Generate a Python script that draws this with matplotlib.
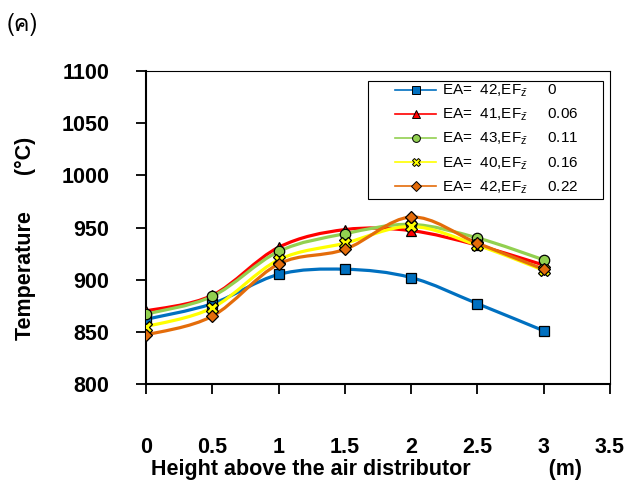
import matplotlib
matplotlib.use("Agg")
import matplotlib.pyplot as plt
from matplotlib.path import Path
from matplotlib.patches import PathPatch, Rectangle
from matplotlib.lines import Line2D
from matplotlib import font_manager
from matplotlib.ft2font import FT2Font
import numpy as np

# measurements along the bed height (m) and temperatures (deg C)
height = [0, 0.5, 1, 1.5, 2, 2.5, 3]
temp_ef0 = [862, 877, 905, 910, 902, 877, 851]
temp_ef006 = [870, 885, 931, 948, 947, 933, 914]
temp_ef011 = [867, 884, 927, 944, 953, 940, 919]
temp_ef016 = [855, 873, 919, 935, 951, 933, 909]
temp_ef022 = [847, 865, 915, 929, 960, 935, 910]

ea_values = [42, 41, 43, 40, 42]
ef_labels = ["0", "0.06", "0.11", "0.16", "0.22"]

series = [temp_ef0, temp_ef006, temp_ef011, temp_ef016, temp_ef022]
colors = ["#0070C0", "#FF0000", "#92D050", "#FFFF00", "#E46C0A"]
markers = ["s", "^", "o", "X", "D"]
msizes = [7, 7.5, 7.5, 8, 6.5]

plt.rcParams["font.family"] = ["Liberation Sans", "DejaVu Sans"]
plt.rcParams["mathtext.fontset"] = "custom"
plt.rcParams["mathtext.rm"] = "Liberation Sans"
plt.rcParams["mathtext.it"] = "Liberation Sans"


def find_font(char):
    for f in font_manager.fontManager.ttflist:
        try:
            if ord(char) in FT2Font(f.fname).get_charmap():
                return f.name
        except Exception:
            continue
    return "DejaVu Sans"


def smooth_path(xs, ys):
    # cubic bezier through the points, like a spreadsheet "smoothed line"
    pts = np.column_stack([xs, ys]).astype(float)
    n = len(pts)
    verts = [pts[0]]
    codes = [Path.MOVETO]
    for i in range(n - 1):
        p0 = pts[max(i - 1, 0)]
        p1 = pts[i]
        p2 = pts[i + 1]
        p3 = pts[min(i + 2, n - 1)]
        c1 = p1 + (p2 - p0) / 6.0
        c2 = p2 - (p3 - p1) / 6.0
        verts += [c1, c2, p2]
        codes += [Path.CURVE4] * 3
    return Path(verts, codes)


fig = plt.figure(figsize=(6.27, 4.84), dpi=100)
ax = fig.add_axes([146 / 627, 1 - 384 / 484, 464 / 627, 313 / 484])

handles = []
for i, ys in enumerate(series):
    patch = PathPatch(smooth_path(height, ys), facecolor="none",
                      edgecolor=colors[i], lw=2.3, zorder=2 + i * 0.1)
    ax.add_patch(patch)
    ax.plot(height, ys, linestyle="none", marker=markers[i], ms=msizes[i],
            mfc=colors[i], mec="black", mew=0.9, zorder=3 + i * 0.1)
    label = f"EA=  {ea_values[i]},EF$_{{\\bar{{z}}}}$     {ef_labels[i]}"
    handles.append(Line2D([], [], color=colors[i], lw=1.2, marker=markers[i],
                          ms=msizes[i] * 0.75, mfc=colors[i], mec="black",
                          mew=0.7, label=label))

ax.set_xlim(0, 3.5)
ax.set_ylim(800, 1100)
ax.set_xticks(np.arange(0, 3.51, 0.5))
ax.set_xticklabels(["0", "0.5", "1", "1.5", "2", "2.5", "3", "3.5"])
ax.set_yticks(np.arange(800, 1101, 50))

for side in ["top", "right"]:
    ax.spines[side].set_linewidth(0.8)
for side in ["left", "bottom"]:
    ax.spines[side].set_linewidth(1.5)

ax.tick_params(axis="y", direction="out", length=7.5, width=1.3, pad=19,
               labelsize=15.5)
ax.tick_params(axis="x", direction="out", length=7.5, width=1.3, pad=31,
               labelsize=15.5)
for lbl in ax.get_xticklabels() + ax.get_yticklabels():
    lbl.set_fontweight("bold")

# legend box
ax.add_patch(Rectangle((222 / 464, 185 / 313), 235 / 464, 118 / 313,
                       transform=ax.transAxes, facecolor="white",
                       edgecolor="black", lw=0.8, zorder=5))
leg = ax.legend(handles=handles, loc="upper left",
                bbox_to_anchor=(249 / 464, 301 / 313), frameon=False,
                borderpad=0, borderaxespad=0, fontsize=11,
                handlelength=2.7, handletextpad=0.35, labelspacing=0.5)
leg.set_zorder(6)

fig.text(366 / 627, 1 - 469 / 484, "Height above the air distributor" + " " * 13 + "(m)",
         ha="center", va="center", fontsize=15.5, fontweight="bold")
fig.text(25 / 627, 1 - 238 / 484, "Temperature" + " " * 6 + "(°C)",
         ha="center", va="center", rotation=90, fontsize=15.5,
         fontweight="bold")

thai_font = find_font("ค")
fig.text(7 / 627, 1 - 25 / 484, "(ค)", ha="left", va="center", fontsize=17,
         family=[thai_font, "DejaVu Sans"])

fig.savefig("out.png", dpi=100)
